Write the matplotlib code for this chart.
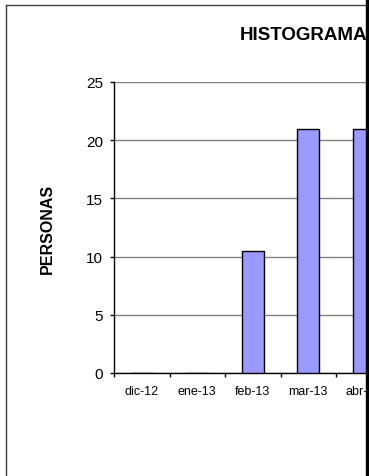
import numpy as np
import matplotlib.pyplot as plt
from matplotlib.lines import Line2D
from matplotlib.patches import Rectangle

plt.rcParams['font.family'] = ['Liberation Sans', 'DejaVu Sans']

# datos
meses = ['dic-12', 'ene-13', 'feb-13', 'mar-13', 'abr-13']
personas = [0, 0, 10.5, 21, 21]

W, H = 369, 477
fig = plt.figure(figsize=(W / 100, H / 100), dpi=100)

# ancho de cada categoria ~55.5 px, el grafico sigue fuera del recorte
cat_w = 55.5
ax = fig.add_axes([114 / W, (H - 374) / H, len(meses) * cat_w / W, (374 - 83) / H])
x = np.arange(len(meses))
ax.bar(x, personas, width=0.4, color='#9999FF', edgecolor='black', linewidth=1, zorder=3)

ax.set_xlim(-0.5, len(meses) - 0.5)
ax.set_ylim(0, 25)
ax.set_yticks(np.arange(0, 26, 5))
ax.yaxis.grid(True, color='#808080', linewidth=1, zorder=0)
ax.set_axisbelow(True)
ax.set_xticks(x)
ax.set_xticklabels(meses, fontsize=9)
ax.set_xticks(np.arange(-0.5, len(meses), 1), minor=True)
ax.tick_params(axis='x', which='major', length=0, pad=9)
ax.tick_params(axis='x', which='minor', length=3, direction='out', width=1)
ax.tick_params(axis='y', length=3, width=1, labelsize=11, pad=5)
for s in ['top', 'right']:
    ax.spines[s].set_visible(False)
ax.spines['left'].set_linewidth(1)
ax.spines['bottom'].set_linewidth(1)
ax.set_ylabel('PERSONAS', fontsize=11.5, fontweight='bold', labelpad=22)

fig.text(240 / W, 1 - 36 / H, 'HISTOGRAMA', fontsize=13.5, fontweight='bold',
         ha='left', va='center')

# marco del grafico
fig.add_artist(Line2D([6 / W, 6 / W], [0, 1 - 6 / H], color='#404040', linewidth=1))
fig.add_artist(Line2D([6 / W, 1], [1 - 6 / H, 1 - 6 / H], color='#404040', linewidth=1))
fig.add_artist(Rectangle((366 / W, 0), 3 / W, 1, transform=fig.transFigure,
                         color='black', zorder=10))

fig.savefig('out.png', dpi=100)
